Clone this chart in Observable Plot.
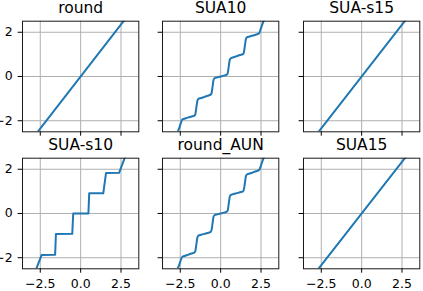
<!DOCTYPE html>
<html><head><meta charset="utf-8">
<script src="https://cdn.jsdelivr.net/npm/d3@7"></script>
<script src="https://cdn.jsdelivr.net/npm/@observablehq/plot@0.6"></script>
<style>
html,body{margin:0;padding:0;background:#fff;}
#chart{position:relative;width:423px;height:291px;overflow:hidden;background:#fff;}
#chart svg{position:absolute;}
</style></head><body><div id="chart"></div>
<script>
const titles = ["round", "SUA10", "SUA-s15", "SUA-s10", "round_AUN", "SUA15"];
const xTicks = [-2.5, 0, 2.5];
const xTickLabels = ["−2.5", "0.0", "2.5"];
const yTicks = [-2, 0, 2];
const yTickLabels = ["−2", "0", "2"];

const roundX = [-2.9, 2.9];
const roundY = [-2.73, 2.73];

const sua10X = [-2.85,-2.7,-2.55,-2.45,-2.38,-2.2,-2.0,-1.8,-1.62,-1.56,-1.5,-1.44,-1.38,-1.2,-1.0,-0.8,-0.62,-0.56,-0.5,-0.44,-0.38,-0.2,0,0.2,0.38,0.44,0.5,0.56,0.62,0.8,1.0,1.2,1.38,1.44,1.5,1.56,1.62,1.8,2.0,2.2,2.38,2.45,2.55,2.7,2.85];
const sua10Y = [-2.85,-2.58,-2.30,-2.08,-1.95,-1.90,-1.85,-1.81,-1.77,-1.68,-1.38,-1.10,-1.01,-0.97,-0.92,-0.87,-0.82,-0.74,-0.45,-0.16,-0.08,-0.04,0,0.04,0.08,0.16,0.45,0.74,0.82,0.87,0.92,0.97,1.01,1.10,1.38,1.68,1.77,1.81,1.85,1.90,1.95,2.08,2.30,2.58,2.85];

const suaS15X = [-2.9, 2.9];
const suaS15Y = [-2.72, 2.72];

const suaS10X = [-2.85,-2.42,-1.58,-1.53,-0.52,-0.46,0.48,0.53,1.40,1.57,2.38,2.85];
const suaS10Y = [-2.70,-1.88,-1.86,-0.93,-0.92,0,0,0.91,0.91,1.83,1.84,2.75];

const roundAunX = [-2.85,-2.7,-2.55,-2.45,-2.37,-2.2,-2.0,-1.8,-1.62,-1.56,-1.5,-1.44,-1.38,-1.2,-1.0,-0.8,-0.62,-0.56,-0.5,-0.44,-0.38,-0.2,0,0.2,0.38,0.44,0.5,0.56,0.62,0.8,1.0,1.2,1.38,1.44,1.5,1.56,1.62,1.8,2.0,2.2,2.37,2.45,2.55,2.7,2.85];
const roundAunY = [-2.84,-2.57,-2.29,-2.07,-1.96,-1.91,-1.86,-1.81,-1.76,-1.67,-1.37,-1.09,-1.00,-0.96,-0.92,-0.88,-0.83,-0.74,-0.44,-0.15,-0.08,-0.04,0,0.04,0.08,0.15,0.44,0.74,0.83,0.88,0.92,0.96,1.00,1.09,1.37,1.67,1.76,1.81,1.86,1.91,1.96,2.07,2.29,2.57,2.84];

const sua15X = [-2.9, 2.9];
const sua15Y = [-2.71, 2.71];

const series = [
  [roundX, roundY, "linear"],
  [sua10X, sua10Y, "monotone-x"],
  [suaS15X, suaS15Y, "linear"],
  [suaS10X, suaS10Y, "linear"],
  [roundAunX, roundAunY, "monotone-x"],
  [sua15X, sua15Y, "linear"]
];

const colLeft = [0, 140, 280.5];
const rowTop = [0, 136.8];
const rowHeight = [136.8, 154.2];
const chart = document.getElementById("chart");

series.forEach(([xs, ys, curve], i) => {
  const r = Math.floor(i / 3), c = i % 3;
  const data = xs.map((x, k) => ({x, y: ys[k]}));
  const mT = 20.7, frameH = 110.6;
  const svg = Plot.plot({
    width: 140,
    height: rowHeight[r],
    marginLeft: 22,
    marginRight: 1.7,
    marginTop: mT,
    marginBottom: rowHeight[r] - mT - frameH,
    x: {domain: [-3.6, 3.6]},
    y: {domain: [-2.5, 2.5]},
    style: {fontFamily: "DejaVu Sans", fontSize: "12.5px", background: "transparent", overflow: "visible", color: "black"},
    marks: [
      Plot.gridX(xTicks, {stroke: "#b0b0b0", strokeOpacity: 1, strokeWidth: 1}),
      Plot.gridY(yTicks, {stroke: "#b0b0b0", strokeOpacity: 1, strokeWidth: 1}),
      Plot.line(data, {x: "x", y: "y", stroke: "#1f77b4", strokeWidth: 2, curve, clip: true}),
      Plot.frame({stroke: "#1a1a1a", strokeWidth: 1}),
      Plot.axisX(xTicks, {
        label: null, tickSize: 4.4, tickPadding: 6.3, fontSize: 12.5,
        tickFormat: r === 1 ? (d => xTickLabels[xTicks.indexOf(d)]) : (() => "")
      }),
      Plot.axisY(yTicks, {
        label: null, tickSize: 4.4, tickPadding: 5.5, fontSize: 12.5,
        tickFormat: c === 0 ? (d => yTickLabels[yTicks.indexOf(d)]) : (() => "")
      }),
      Plot.text([titles[i]], {text: d => d, frameAnchor: "top", dy: -8.2, lineAnchor: "bottom", fontSize: 15.5, fill: "black"})
    ]
  });
  svg.style.left = colLeft[c] + "px";
  svg.style.top = rowTop[r] + "px";
  chart.appendChild(svg);
});
</script>
</body></html>
